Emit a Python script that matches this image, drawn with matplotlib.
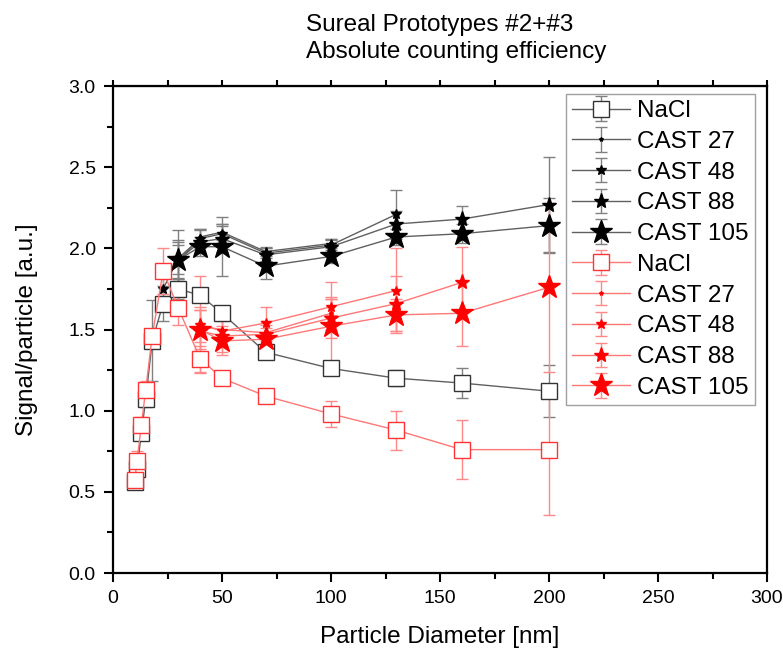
import matplotlib
matplotlib.use('Agg')
import matplotlib.pyplot as plt
from matplotlib.ticker import MultipleLocator, FormatStrFormatter

plt.rcParams['font.family'] = ['Liberation Sans', 'DejaVu Sans']

# ---- data ----
# Prototype #2 (black)
x_nacl = [10, 11, 13, 15, 18, 23, 30, 40, 50, 70, 100, 130, 160, 200]
nacl_k = [0.56, 0.64, 0.86, 1.07, 1.43, 1.66, 1.75, 1.71, 1.60, 1.36, 1.26, 1.20, 1.17, 1.12]
nacl_k_err = [0.04, 0.05, 0.04, 0.05, 0.25, 0.11, 0.06, 0.04, 0.03, 0.03, 0.03, 0.05, 0.09, 0.16]

x_c27_k = [30, 40, 50, 70, 100]
c27_k = [1.92, 2.07, 2.10, 1.98, 2.03]
c27_k_err = [0.10, 0.05, 0.05, 0.03, 0.03]

x_c48_k = [23, 30, 40, 50, 70, 100, 130]
c48_k = [1.75, 1.94, 2.06, 2.09, 1.97, 2.02, 2.21]
c48_k_err = [0.10, 0.10, 0.06, 0.06, 0.03, 0.04, 0.15]

x_c88_k = [30, 40, 50, 70, 100, 130, 160, 200]
c88_k = [1.93, 2.04, 2.06, 1.96, 2.01, 2.15, 2.18, 2.27]
c88_k_err = [0.12, 0.07, 0.08, 0.04, 0.04, 0.08, 0.08, 0.29]

x_c105_k = [30, 40, 50, 70, 100, 130, 160, 200]
c105_k = [1.93, 2.01, 2.01, 1.89, 1.95, 2.07, 2.09, 2.14]
c105_k_err = [0.18, 0.06, 0.18, 0.08, 0.04, 0.05, 0.06, 0.17]

# Prototype #3 (red)
nacl_r = [0.57, 0.69, 0.91, 1.13, 1.46, 1.86, 1.63, 1.32, 1.20, 1.09, 0.98, 0.88, 0.76, 0.76]
nacl_r_err = [0.05, 0.06, 0.05, 0.05, 0.04, 0.14, 0.10, 0.08, 0.03, 0.04, 0.08, 0.12, 0.18, 0.40]

x_c27_r = [40, 50, 70, 100]
c27_r = [1.52, 1.50, 1.48, 1.60]
c27_r_err = [0.10, 0.05, 0.05, 0.10]

x_c48_r = [40, 50, 70, 100, 130]
c48_r = [1.53, 1.49, 1.54, 1.64, 1.74]
c48_r_err = [0.30, 0.10, 0.10, 0.05, 0.26]

x_c88_r = [40, 50, 70, 100, 130, 160]
c88_r = [1.49, 1.46, 1.47, 1.57, 1.66, 1.79]
c88_r_err = [0.15, 0.10, 0.08, 0.12, 0.17, 0.22]

x_c105_r = [40, 50, 70, 100, 130, 160, 200]
c105_r = [1.50, 1.43, 1.44, 1.52, 1.59, 1.60, 1.76]
c105_r_err = [0.12, 0.09, 0.07, 0.27, 0.10, 0.20, 0.52]

labels = ['NaCl', 'CAST 27', 'CAST 48', 'CAST 88', 'CAST 105']

fig = plt.figure(figsize=(7.83, 6.48), dpi=100)
ax = fig.add_axes([113/783, 1-573/648, 654/783, 487/648])

def draw(x, y, err, lab, marker, ms, line_c, mark_c, err_c, mfc=None):
    if mfc is None:
        mfc = mark_c
    ax.errorbar(x, y, yerr=err, color=line_c, ecolor=err_c, elinewidth=1,
                capsize=4.5, capthick=1, lw=1, marker=marker, ms=ms,
                mec=mark_c, mfc=mfc, mew=1, label=lab)

# black set
k_line = '#606060'
k_err = '#808080'
draw(x_nacl, nacl_k, nacl_k_err, labels[0], 's', 11, k_line, '#333333', k_err, mfc='white')
draw(x_c27_k, c27_k, c27_k_err, labels[1], '*', 3, k_line, 'black', k_err)
draw(x_c48_k, c48_k, c48_k_err, labels[2], '*', 7, k_line, 'black', k_err)
draw(x_c88_k, c88_k, c88_k_err, labels[3], '*', 11, k_line, 'black', k_err)
draw(x_c105_k, c105_k, c105_k_err, labels[4], '*', 17, k_line, 'black', k_err)

# red set
r_line = '#ff7777'
r_err = '#ff8888'
draw(x_nacl, nacl_r, nacl_r_err, labels[0], 's', 11, r_line, '#ff3333', r_err, mfc='white')
draw(x_c27_r, c27_r, c27_r_err, labels[1], '*', 3, r_line, 'red', r_err)
draw(x_c48_r, c48_r, c48_r_err, labels[2], '*', 7, r_line, 'red', r_err)
draw(x_c88_r, c88_r, c88_r_err, labels[3], '*', 11, r_line, 'red', r_err)
draw(x_c105_r, c105_r, c105_r_err, labels[4], '*', 17, r_line, 'red', r_err)

ax.set_xlim(0, 300)
ax.set_ylim(0, 3.0)
ax.xaxis.set_major_locator(MultipleLocator(50))
ax.xaxis.set_minor_locator(MultipleLocator(25))
ax.yaxis.set_major_locator(MultipleLocator(0.5))
ax.yaxis.set_minor_locator(MultipleLocator(0.25))
ax.yaxis.set_major_formatter(FormatStrFormatter('%.1f'))
ax.tick_params(which='major', direction='out', length=6.5, width=1.5, labelsize=14, pad=6)
ax.tick_params(which='minor', direction='out', length=4, width=1.5)
for s in ax.spines.values():
    s.set_linewidth(1.6)

# top ticks (no labels)
top = ax.secondary_xaxis('top')
top.xaxis.set_major_locator(MultipleLocator(25))
top.tick_params(direction='out', length=4, width=1.5, labeltop=False)

ax.set_xlabel('Particle Diameter [nm]', fontsize=17.5)
ax.set_ylabel('Signal/particle [a.u.]', fontsize=17.5)
ax.xaxis.set_label_coords(0.5, -0.108)
ax.yaxis.set_label_coords(-0.115, 0.5)
fig.text(456/783, 1-14/648, 'Sureal Prototypes #2+#3\nAbsolute counting efficiency',
         ha='center', va='top', multialignment='left', fontsize=17.5, linespacing=1.3)

leg = ax.legend(loc='upper right', bbox_to_anchor=((755-113)/654, (573-94)/487),
                borderaxespad=0, fontsize=17.5, frameon=True, fancybox=False,
                edgecolor='#888888', labelspacing=0.36, handlelength=2.4,
                handletextpad=0.3, borderpad=0.25, numpoints=1)
leg.get_frame().set_linewidth(1)

plt.savefig('out.png', dpi=100)
